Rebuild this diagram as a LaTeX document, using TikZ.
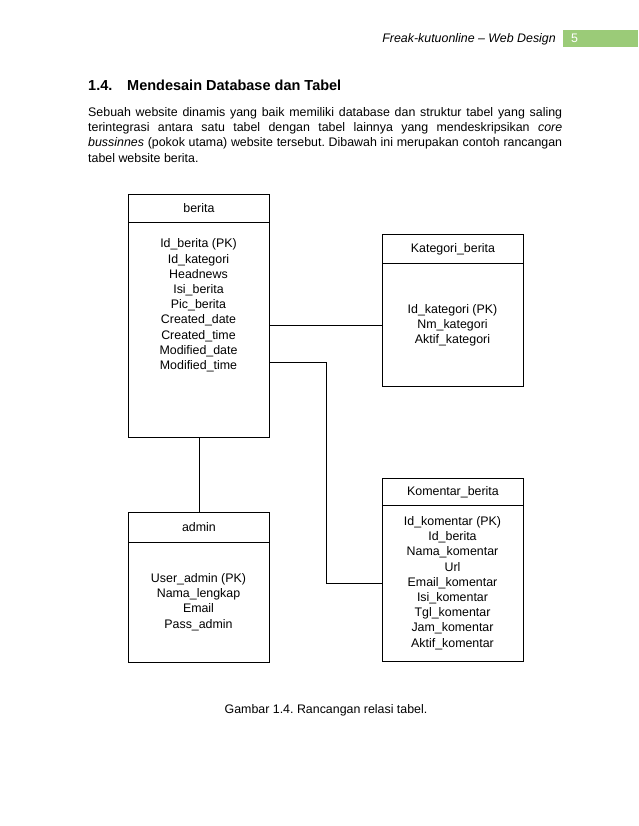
\documentclass[tikz,border=0pt]{standalone}
\usepackage{fontspec}
\setmainfont{Liberation Sans}
\frenchspacing
\definecolor{hdrgreen}{RGB}{155,203,120}
\begin{document}
\frenchspacing
\begin{tikzpicture}[x=1pt,y=-1pt,
  tb/.style={draw, line width=0.9pt, minimum width=141pt, inner sep=0pt, anchor=north west,
             font=\fontsize{12.4}{15.2}\selectfont},
  txt/.style={font=\fontsize{12.4}{15.2}\selectfont, align=center, inner sep=0pt},
  conn/.style={draw, line width=0.9pt},
  bodyfont/.style={font=\fontsize{12.4}{15.2}\selectfont}]
\useasboundingbox (0,0) rectangle (638,826);
\fill[white] (0,0) rectangle (638,826);

% page header
\node[anchor=base east, inner sep=0pt, font=\itshape\fontsize{12.4}{15}\selectfont] (ht) at (556,43) {Freak-kutuonline -- Web Design};
\node[fill=hdrgreen, minimum width=75pt, minimum height=17pt, anchor=north west, inner sep=0pt] (pg) at (563,30) {};
\node[anchor=base west, inner sep=0pt, text=white, font=\fontsize{12.4}{15}\selectfont] (pn) at (571,43) {5};

% heading
\node[anchor=base west, inner sep=0pt, font=\bfseries\fontsize{14.5}{17}\selectfont] (h1) at (88,91) {1.4.};
\node[anchor=base west, inner sep=0pt, font=\bfseries\fontsize{14.5}{17}\selectfont] (h2) at (127,91) {Mendesain Database dan Tabel};

% paragraph
\node[anchor=base west, inner sep=0pt, bodyfont] (par) at (88,116.5) {\parbox[t]{474pt}{\frenchspacing\hyphenpenalty=10000\tolerance=10000\emergencystretch=20pt
Sebuah website dinamis yang baik memiliki database dan struktur tabel yang saling\linebreak terintegrasi antara satu tabel dengan tabel lainnya yang mendeskripsikan \textit{core}\linebreak \textit{bussinnes} (pokok utama) website tersebut. Dibawah ini merupakan contoh rancangan\linebreak tabel website berita.}};

% berita
\node[tb, minimum height=28pt] (bh) at (128,194) {berita};
\node[tb, minimum height=215pt] (bb) at (128,222) {};
\node[txt] (bt) at (198.5,305.5) {Id\_berita (PK)\\Id\_kategori\\Headnews\\Isi\_berita\\Pic\_berita\\Created\_date\\Created\_time\\Modified\_date\\Modified\_time};

% Kategori_berita
\node[tb, minimum height=29pt] (kh) at (382,234) {Kategori\_berita};
\node[tb, minimum height=123pt] (kb) at (382,263) {};
\node[txt] (kt) at (452.5,325.5) {Id\_kategori (PK)\\Nm\_kategori\\Aktif\_kategori};

% Komentar_berita
\node[tb, minimum height=27pt] (mh) at (382,478) {Komentar\_berita};
\node[tb, minimum height=156pt] (mb) at (382,505) {};
\node[txt] (mt) at (452.5,583) {Id\_komentar (PK)\\Id\_berita\\Nama\_komentar\\Url\\Email\_komentar\\Isi\_komentar\\Tgl\_komentar\\Jam\_komentar\\Aktif\_komentar};

% admin
\node[tb, minimum height=30pt] (ah) at (128,512) {admin};
\node[tb, minimum height=120pt] (ab) at (128,542) {};
\node[txt] (at) at (198.5,602) {User\_admin (PK)\\Nama\_lengkap\\Email\\Pass\_admin};

% connectors
\draw[conn] (bb.east |- kb.west) -- (kb.west);
\coordinate (bend) at (326,362);
\draw[conn] (bb.east |- bend) -- (bend) |- (mb.west);
\draw[conn] (bb.south) -- (ah.north);

% caption
\node[anchor=base, inner sep=0pt, bodyfont] (cap) at (326,713) {\frenchspacing Gambar 1.4. Rancangan relasi tabel.};
\end{tikzpicture}
\end{document}
